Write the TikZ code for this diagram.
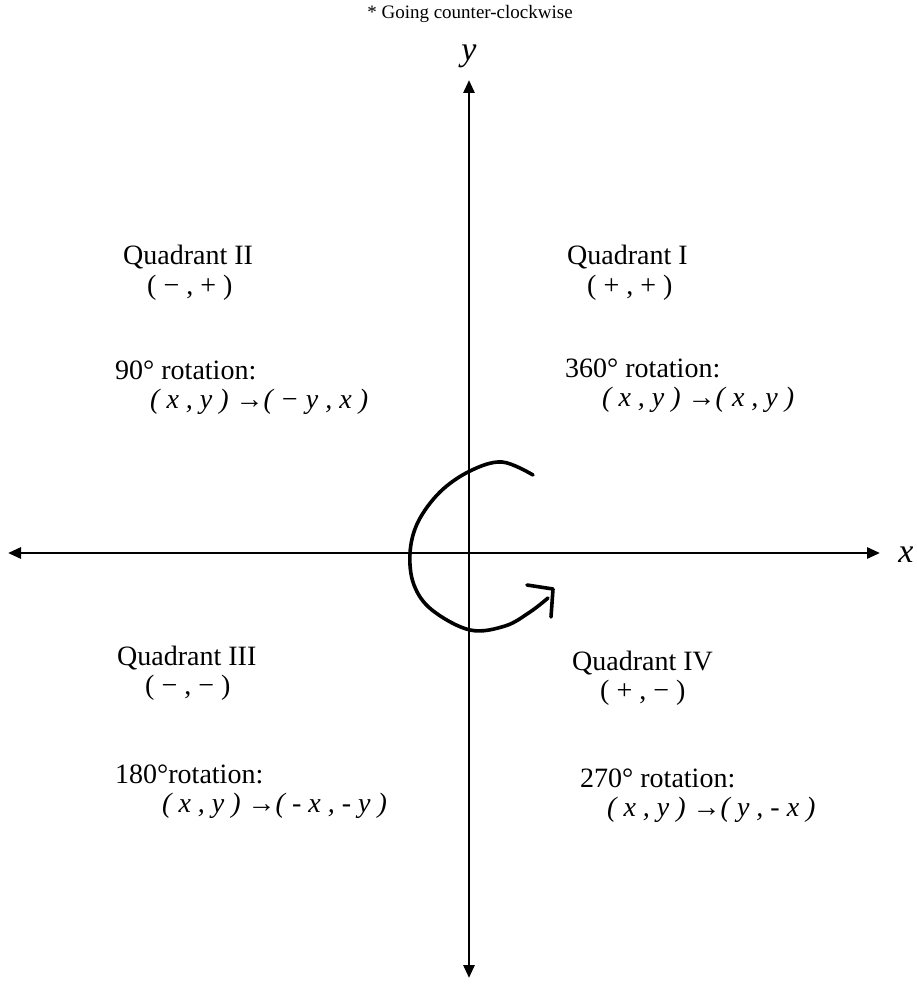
\documentclass[tikz,border=0pt]{standalone}
\usepackage{fontspec}
\setmainfont{Liberation Serif}
\usetikzlibrary{arrows.meta}
\begin{document}
\begin{tikzpicture}[x=1pt,y=-1pt,
  axis/.style={line width=2.8pt,{Triangle[length=13pt,width=11pt]}-{Triangle[length=13pt,width=11pt]}},
  quad/.style={anchor=west,inner sep=0pt,font=\fontsize{28}{32}\selectfont},
  rule/.style={anchor=west,inner sep=0pt,font=\fontsize{28}{32}\selectfont\itshape},
  axlabel/.style={inner sep=0pt,font=\fontsize{34}{38}\selectfont\itshape},
  hand/.style={line width=3.6pt,line cap=round,line join=round}]
\useasboundingbox (0,0) rectangle (916,984);
% axes
\coordinate (xl) at (8,553);
\coordinate (xr) at (880,553);
\coordinate (yt) at (469,80);
\coordinate (yb) at (469,978);
\draw[axis] (xl) -- (xr);
\draw[axis] (yb) -- (yt);
\node[axlabel] (xlab) at (906,555) {x};
\node[axlabel] (ylab) at (469,56) {y};
% title
\node[inner sep=0pt,font=\fontsize{19}{24}\selectfont] (title) at (470,14) {* Going counter-clockwise};
% quadrant labels
\node[quad] (q2) at (123,257) {Quadrant II};
\node[quad] (q2s) at (147,288) {( − , + )};
\node[quad] (r2) at (115,370) {90° rotation:};
\node[rule] (r2f) at (150,402) {( x , y ) →( − y , x )};
\node[quad] (q1) at (567,257) {Quadrant I};
\node[quad] (q1s) at (587,288) {( + , + )};
\node[quad] (r1) at (565,368) {360° rotation:};
\node[rule] (r1f) at (602,400) {( x , y ) →( x , y )};
\node[quad] (q3) at (117,658) {Quadrant III};
\node[quad] (q3s) at (145,688) {( − , − )};
\node[quad] (r3) at (115,774) {180°rotation:};
\node[rule] (r3f) at (162,806) {( x , y ) →( - x , - y )};
\node[quad] (q4) at (572,663) {Quadrant IV};
\node[quad] (q4s) at (600,693) {( + , − )};
\node[quad] (r4) at (580,778) {270° rotation:};
\node[rule] (r4f) at (607,810) {( x , y ) →( y , - x )};
% hand-drawn rotation arrow
\draw[hand] plot[smooth,tension=0.6] coordinates {(533,475) (502,462) (470,471) (440,492) (418,522) (410,553) (414,585) (432,610) (470,630) (505,626) (530,612) (548,598)};
\draw[hand] (527,585) -- (553,589) -- (551,617);
\end{tikzpicture}
\end{document}
